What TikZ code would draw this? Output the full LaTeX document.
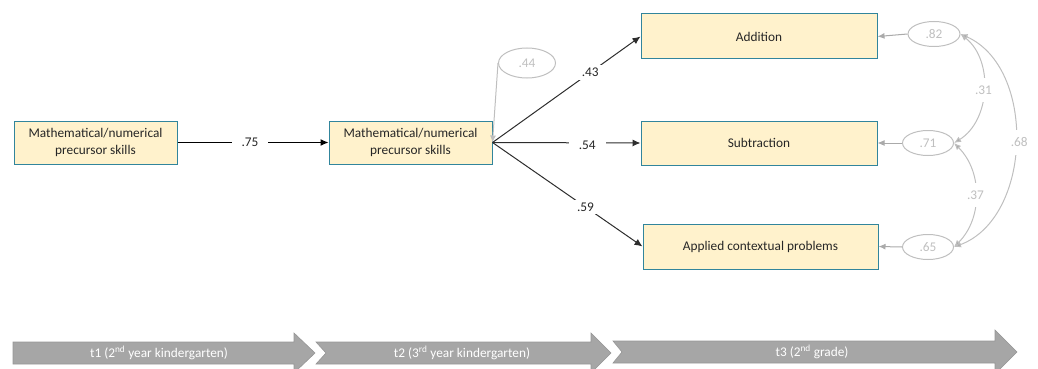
\documentclass[tikz,border=0pt]{standalone}
\usepackage{fontspec}
\setmainfont{Carlito}
\usetikzlibrary{arrows.meta,shapes.geometric}
\definecolor{boxfill}{RGB}{255,242,204}
\definecolor{boxdraw}{RGB}{49,133,156}
\definecolor{txt}{RGB}{38,38,38}
\definecolor{pathc}{RGB}{45,45,45}
\definecolor{lgray}{RGB}{191,191,191}
\definecolor{mgray}{RGB}{170,170,170}
\definecolor{arrfill}{RGB}{166,166,166}
\definecolor{arrdraw}{RGB}{150,150,150}
\tikzset{
  every node/.style={font=\fontsize{13.3}{16.5}\selectfont, text=txt},
  varbox/.style={draw=boxdraw, fill=boxfill, line width=1pt, align=center, inner sep=0pt},
  errell/.style={ellipse, draw=lgray, line width=1pt, inner sep=0pt, text=lgray},
  pathline/.style={draw=pathc, line width=1pt, -{Latex[length=8pt,width=7pt]}},
  grayline/.style={draw=mgray, line width=1pt, -{Latex[length=7pt,width=6pt]}},
  covline/.style={draw=lgray, line width=1pt, {Latex[length=7pt,width=6pt,fill=mgray]}-{Latex[length=7pt,width=6pt,fill=mgray]}},
  lbl/.style={fill=white, inner xsep=10pt, inner ysep=3pt},
  glbl/.style={fill=white, inner xsep=2pt, inner ysep=8pt, text=lgray},
  tarrow/.style={fill=arrfill, draw=arrdraw, line width=0.6pt},
  tlbl/.style={text=white}
}
\begin{document}
\begin{tikzpicture}[x=1pt,y=-1pt]
\useasboundingbox (0,0) rectangle (1038,369);
% boxes
\node[varbox, minimum width=163pt, minimum height=43pt] (b1) at (95.5,142.5) {Mathematical/numerical\\precursor skills};
\node[varbox, minimum width=163pt, minimum height=43pt] (b2) at (410.5,142.5) {Mathematical/numerical\\precursor skills};
\node[varbox, minimum width=236pt, minimum height=45pt] (add) at (759,36.5) {Addition};
\node[varbox, minimum width=236pt, minimum height=44pt] (sub) at (759,143) {Subtraction};
\node[varbox, minimum width=235pt, minimum height=45pt] (app) at (760.5,246.5) {Applied contextual problems};
% error ellipses
\node[errell, minimum width=57pt, minimum height=30pt] (e44) at (527,63) {.44};
\node[errell, minimum width=52pt, minimum height=25pt] (e82) at (934,34) {.82};
\node[errell, minimum width=51pt, minimum height=25pt] (e71) at (928,143) {.71};
\node[errell, minimum width=51pt, minimum height=25pt] (e65) at (928,247) {.65};
% paths
\draw[pathline, draw=black] (b1.east) -- node[lbl, pos=0.48] {.75} (b2.west);
\draw[pathline] (b2.east) -- node[lbl, pos=0.66] {.43} (add.west);
\draw[pathline] (b2.east) -- node[lbl, pos=0.64, yshift=-2pt] {.54} (sub.west);
\draw[pathline] (b2.east) -- node[lbl, pos=0.62] {.59} (app.west);
% error arrows
\draw[grayline, draw=lgray] (e44.west) -- (b2.east);
\draw[grayline] (e82.west) -- (add.east);
\draw[grayline] (e71.west) -- (sub.east);
\draw[grayline] (e65.west) -- (app.east);
% covariances
\draw[covline] (e82.east) to[bend left=55] node[glbl] {.31} (e71.east);
\draw[covline] (e71.east) to[bend left=45] node[glbl] {.37} (e65.east);
\draw[covline] (e82.east) to[bend left=68] node[glbl, xshift=4pt] {.68} (e65.east);
% time arrows
\path[tarrow] (13,342) -- (294,342) -- (294,333) -- (315,353) -- (294,373) -- (294,364) -- (13,364) -- cycle;
\path[tarrow] (316,342) -- (591,342) -- (591,333) -- (611,353) -- (591,373) -- (591,364) -- (316,364) -- (326,353) -- cycle;
\path[tarrow] (613,341) -- (995,341) -- (995,330) -- (1017,352) -- (995,374) -- (995,363) -- (613,363) -- (622,352) -- cycle;
\node[tlbl] (t1) at (159,353) {t1 (2\textsuperscript{nd} year kindergarten)};
\node[tlbl] (t2) at (462,353) {t2 (3\textsuperscript{rd} year kindergarten)};
\node[tlbl] (t3) at (812,352) {t3 (2\textsuperscript{nd} grade)};
\end{tikzpicture}
\end{document}
